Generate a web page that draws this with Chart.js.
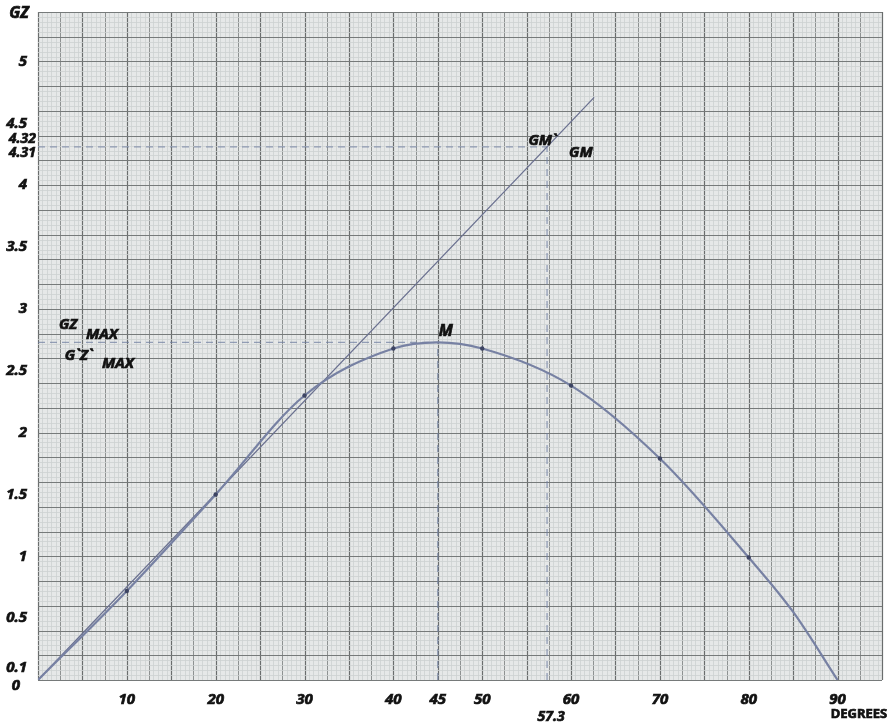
<!DOCTYPE html>
<html>
<head>
<meta charset="utf-8">
<script src="https://cdn.jsdelivr.net/npm/chart.js@4.4.0/dist/chart.umd.min.js"></script>
<style>
  html, body { margin: 0; padding: 0; background: #fff; }
  #wrap { width: 890px; height: 723px; position: relative; }
</style>
</head>
<body>
<div id="wrap"><canvas id="gz-chart"></canvas></div>
<script>
// heel angle (degrees) and righting lever GZ
const angles = [0, 10, 20, 30, 40, 45, 50, 60, 70, 80, 85, 90];
const gzValues = [0, 0.72, 1.5, 2.3, 2.68, 2.73, 2.68, 2.38, 1.79, 0.99, 0.55, 0];
const markedAngles = [10, 20, 30, 40, 50, 60, 70, 80];

// initial GM tangent: through origin and (57.3 deg, GM)
const tangentX = [0, 57.3, 62.6];
const tangentY = [0, 4.31, 4.71];

const gmValue = 4.31;
const gmRadian = 57.3;
const maxAngle = 45;
const gzMax = 2.73;

const xTicks = [10, 20, 30, 40, 45, 50, 60, 70, 80, 90];
const yTicks = [0.1, 0.5, 1, 1.5, 2, 2.5, 3, 3.5, 4, 4.5, 5];

const toPoints = (xs, ys) => xs.map((x, i) => ({ x: x, y: ys[i] }));

const FAMILY = "'Noto Sans', 'Open Sans', sans-serif";
const labelFont = { family: FAMILY, size: 15, weight: "bold", style: "italic" };

// graph paper drawn behind the data
const graphPaper = {
  id: "graphPaper",
  beforeDatasetsDraw(chart) {
    const { ctx, chartArea: a, scales: { x, y } } = chart;
    ctx.save();
    ctx.fillStyle = "#e6e8e8";
    ctx.fillRect(a.left, a.top, a.right - a.left, a.bottom - a.top);
    const vline = (v, color, w) => {
      const px = Math.round(x.getPixelForValue(v)) + 0.5;
      ctx.strokeStyle = color; ctx.lineWidth = w;
      ctx.beginPath(); ctx.moveTo(px, a.top); ctx.lineTo(px, a.bottom); ctx.stroke();
    };
    const hline = (v, color, w) => {
      const py = Math.round(y.getPixelForValue(v)) + 0.5;
      ctx.strokeStyle = color; ctx.lineWidth = w;
      ctx.beginPath(); ctx.moveTo(a.left, py); ctx.lineTo(a.right, py); ctx.stroke();
    };
    for (let i = 0; i * 0.5 <= x.max; i++) {
      const v = i * 0.5;
      if (i % 10 === 0) vline(v, "#6a6d6d", 1.2);
      else if (i % 5 === 0) vline(v, "#8e9292", 1);
      else vline(v, "#cdd0d1", 0.8);
    }
    for (let i = 0; i * 0.04 <= y.max + 1e-9; i++) {
      const v = i * 0.04;
      if (i % 5 === 0) hline(v, "#767a7a", 1.1);
      else hline(v, "#cdd0d1", 0.8);
    }
    ctx.restore();
  }
};

// text annotations
const annotations = {
  id: "annotations",
  afterDraw(chart) {
    const { ctx, chartArea: a, scales: { x, y } } = chart;
    ctx.save();
    ctx.fillStyle = "#111";
    ctx.strokeStyle = "#111";
    ctx.lineWidth = 0.7;
    ctx.textBaseline = "middle";
    const put = (txt, px, py, size, align, st) => {
      ctx.font = `${st || "italic"} bold ${size}px ${FAMILY}`;
      ctx.textAlign = align || "center";
      ctx.fillText(txt, px, py);
      ctx.strokeText(txt, px, py);
    };
    // axis titles
    put("GZ", 19, 13, 16);
    put("DEGREES", 859, 714, 13, "center", "normal");
    // extra tick values
    put("0", 16, 686, 15);
    put("4.32", a.left - 2, y.getPixelForValue(4.37), 14, "right");
    put("4.31", a.left - 2, y.getPixelForValue(4.26), 14, "right");
    put("57.3", x.getPixelForValue(gmRadian) + 4, 717, 14);
    // labels on the plot
    put("M", x.getPixelForValue(45.9), y.getPixelForValue(2.82), 16);
    put("GM`", x.getPixelForValue(56.8), y.getPixelForValue(4.36), 15);
    put("GM", x.getPixelForValue(61.1), y.getPixelForValue(4.26), 15);
    put("GZ", x.getPixelForValue(3.4), y.getPixelForValue(2.87), 15);
    put("MAX", x.getPixelForValue(7.2), y.getPixelForValue(2.79), 15);
    put("G`Z`", x.getPixelForValue(4.6), y.getPixelForValue(2.62), 15);
    put("MAX", x.getPixelForValue(9.0), y.getPixelForValue(2.56), 15);
    ctx.restore();
  }
};

const dashStyle = {
  borderColor: "rgba(110, 125, 160, 0.7)",
  borderWidth: 1.3,
  borderDash: [7, 5],
  pointRadius: 0,
  showLine: true,
  fill: false
};

const tickStyle = {
  autoSkip: false,
  color: "#111",
  font: labelFont,
  textStrokeColor: "#111",
  textStrokeWidth: 0.7,
  callback: v => String(v)
};

new Chart(document.getElementById("gz-chart"), {
  type: "scatter",
  data: {
    datasets: [
      {
        label: "GZ",
        data: toPoints(angles, gzValues),
        showLine: true,
        cubicInterpolationMode: "monotone",
        borderColor: "#7781a3",
        borderWidth: 2.2,
        pointRadius: angles.map(a => (markedAngles.includes(a) ? 2.2 : 0)),
        pointBackgroundColor: "#3d4463",
        pointBorderWidth: 0
      },
      {
        label: "GM tangent",
        data: toPoints(tangentX, tangentY),
        showLine: true,
        borderColor: "#6b7190",
        borderWidth: 1.3,
        pointRadius: 0
      },
      Object.assign({ label: "GM level", data: [{ x: 0, y: gmValue }, { x: gmRadian, y: gmValue }] }, dashStyle),
      Object.assign({ label: "57.3", data: [{ x: gmRadian, y: 0 }, { x: gmRadian, y: gmValue }] }, dashStyle),
      Object.assign({ label: "45", data: [{ x: maxAngle, y: 0 }, { x: maxAngle, y: gzMax }] }, dashStyle),
      Object.assign({ label: "GZmax", data: [{ x: 0, y: gzMax }, { x: maxAngle, y: gzMax }] }, dashStyle)
    ]
  },
  options: {
    responsive: true,
    maintainAspectRatio: false,
    animation: false,
    layout: { padding: { top: 10, right: 8 } },
    plugins: { legend: { display: false }, tooltip: { enabled: false } },
    scales: {
      x: {
        type: "linear",
        min: 0,
        max: 95,
        grid: { display: false },
        border: { display: false },
        afterBuildTicks: axis => { axis.ticks = xTicks.map(v => ({ value: v })); },
        afterFit: axis => { axis.height = 43; },
        ticks: Object.assign({ maxRotation: 0, padding: 3 }, tickStyle)
      },
      y: {
        type: "linear",
        min: 0,
        max: 5.4,
        grid: { display: false },
        border: { display: false },
        afterBuildTicks: axis => { axis.ticks = yTicks.map(v => ({ value: v })); },
        afterFit: axis => { axis.width = 38; },
        ticks: Object.assign({ padding: 3 }, tickStyle)
      }
    }
  },
  plugins: [graphPaper, annotations]
});
</script>
</body>
</html>
